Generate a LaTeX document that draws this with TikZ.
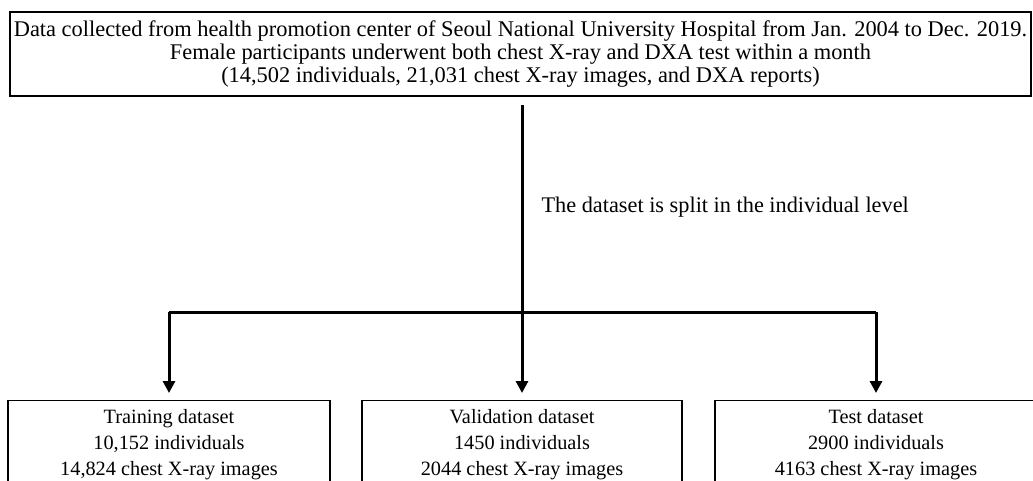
\documentclass[tikz,border=0pt]{standalone}
\usepackage{fontspec}
\setmainfont{Liberation Serif}
\usetikzlibrary{arrows.meta}
\begin{document}
\begin{tikzpicture}[x=1pt,y=-1pt,
  topbox/.style={draw, line width=2pt, align=center, inner sep=0pt,
    minimum width=1021pt, minimum height=84pt,
    font=\fontsize{22.4}{23.2}\selectfont},
  setbox/.style={draw, line width=1.4pt, align=center, anchor=north,
    minimum width=322pt, inner xsep=0pt, inner ysep=9pt, text depth=20pt,
    font=\fontsize{20.3}{25.7}\selectfont},
  conn/.style={line width=3pt},
  arr/.style={conn, -{Triangle[width=12pt,length=12pt]}, shorten >=7pt}]
\clip (0,0) rectangle (1033,480);
\node[topbox] (top) at (520.5,54) {Data collected from health promotion center of Seoul National University Hospital from Jan. 2004 to Dec. 2019.\\
Female participants underwent both chest X-ray and DXA test within a month\\
(14,502 individuals, 21,031 chest X-ray images, and DXA reports)};
\node[setbox] (train) at (169,400) {Training dataset\\10,152 individuals\\14,824 chest X-ray images};
\node[setbox, minimum width=320pt] (val) at (522,400) {Validation dataset\\1450 individuals\\2044 chest X-ray images};
\node[setbox] (test) at (876,400) {Test dataset\\2900 individuals\\4163 chest X-ray images};
\coordinate (split) at (522,312);
\coordinate (left) at (169,312);
\coordinate (right) at (876,312);
\draw[conn, shorten <=8pt] (top.south -| split) -- (split);
\draw[conn] (left) -- (right);
\draw[arr] (left) -- (train.north);
\draw[arr] (split) -- (val.north);
\draw[arr] (right) -- (test.north);
\node[anchor=west, font=\fontsize{22.3}{25}\selectfont] (lab) at (538,207) {The dataset is split in the individual level};
\end{tikzpicture}
\end{document}
